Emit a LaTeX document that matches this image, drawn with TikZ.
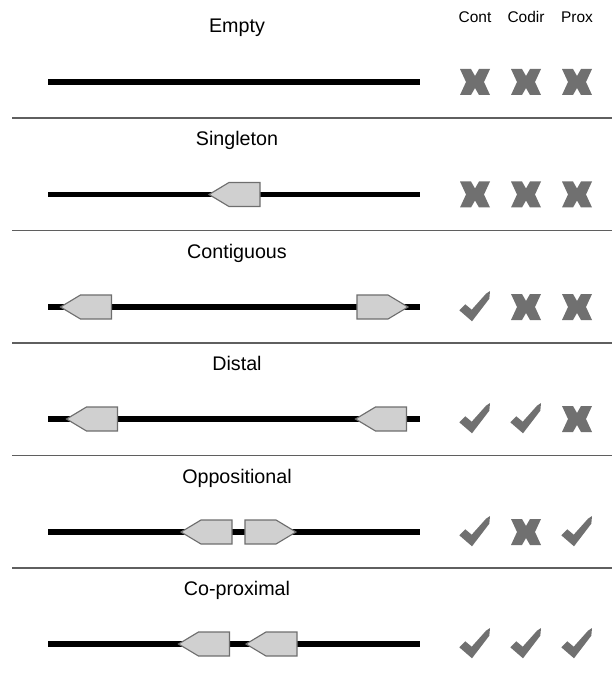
\documentclass[tikz,border=0pt]{standalone}
\usepackage{fontspec}
\setmainfont{Liberation Sans}
\usepackage{tikz}
\usetikzlibrary{shapes.symbols,positioning}
\definecolor{genefill}{RGB}{208,208,208}
\definecolor{genedraw}{RGB}{110,110,110}
\definecolor{markgray}{RGB}{112,112,112}
\definecolor{rulegray}{RGB}{95,95,95}
\tikzstyle{gene} = [shape=signal, signal from=nowhere, minimum width=1.275cm, minimum height=0.6cm, inner sep=0pt, signal pointer angle=62, draw=genedraw, fill=genefill, line width=0.8pt]
\tikzstyle{genome} = [line width=3.6pt, black]
\tikzstyle{rule} = [line width=1.1pt, rulegray]
\tikzstyle{title} = [anchor=base, font=\fontsize{14}{16}\selectfont]
\tikzstyle{colhead} = [anchor=base, font=\fontsize{11}{13}\selectfont]
\tikzset{
  nomark/.pic={
    \fill[markgray] (-15,-13) -- (-4,-13) -- (0,-6) -- (4,-13) -- (15,-13) -- (9,0) -- (15,13) -- (4,13) -- (0,6) -- (-4,13) -- (-15,13) -- (-9,0) -- cycle;
  },
  yesmark/.pic={
    \fill[markgray] (-15.7,3.3) -- (-9.7,-2.7) -- (-3.3,2.7) -- (11,-13.3) .. controls (13,-15) .. (15,-16) .. controls (15,-12) .. (14.3,-8.3) -- (-3,14.3) -- cycle;
  }
}

\begin{document}
\begin{tikzpicture}[x=0.025cm, y=-0.025cm]
\useasboundingbox (0,0) rectangle (612,682);

% Column heads
\node[colhead] (hcont) at (475,23) {Cont};
\node[colhead] (hcodir) at (526,23) {Codir};
\node[colhead] (hprox) at (577,23) {Prox};

% Separators
\foreach \y in {118,230.5,343,455.5,568}
  \draw[rule] (12,\y) -- (612,\y);

% Empty
\node[title] (tempty) at (237,33) {Empty};
\coordinate (e1) at (48,82);
\coordinate (e2) at (420,82);
\draw[genome] (e1) -- (e2);
\pic at (475,82) {nomark};
\pic at (526,82) {nomark};
\pic at (577,82) {nomark};

% Singleton
\node[title] (tsingle) at (237,145.5) {Singleton};
\coordinate (s1) at (48,194.5);
\coordinate (s2) at (420,194.5);
\draw[genome] (s1) -- (s2);
\node[gene, signal to=west] (sg) at (244.5,194.5) {};
\pic at (475,194.5) {nomark};
\pic at (526,194.5) {nomark};
\pic at (577,194.5) {nomark};

% Contiguous
\node[title] (tcontig) at (237,258) {Contiguous};
\coordinate (c1) at (48,307);
\coordinate (c2) at (420,307);
\draw[genome] (c1) -- (c2);
\node[gene, signal to=west] (cg1) at (96,307) {};
\node[gene, signal to=east] (cg2) at (372.5,307) {};
\pic at (475,307) {yesmark};
\pic at (526,307) {nomark};
\pic at (577,307) {nomark};

% Distal
\node[title] (tdistal) at (237,370) {Distal};
\coordinate (d1) at (48,419);
\coordinate (d2) at (420,419);
\draw[genome] (d1) -- (d2);
\node[gene, signal to=west] (dg1) at (102,419) {};
\node[gene, signal to=west] (dg2) at (391,419) {};
\pic at (475,419) {yesmark};
\pic at (526,419) {yesmark};
\pic at (577,419) {nomark};

% Oppositional
\node[title] (toppos) at (237,483) {Oppositional};
\coordinate (o1) at (48,532);
\coordinate (o2) at (420,532);
\draw[genome] (o1) -- (o2);
\node[gene, signal to=west] (og1) at (216.5,532) {};
\node[gene, signal to=east] (og2) at (260.5,532) {};
\pic at (475,532) {yesmark};
\pic at (526,532) {nomark};
\pic at (577,532) {yesmark};

% Co-proximal
\node[title] (tcoprox) at (237,595) {Co-proximal};
\coordinate (p1) at (48,644);
\coordinate (p2) at (420,644);
\draw[genome] (p1) -- (p2);
\node[gene, signal to=west] (pg1) at (214,644) {};
\node[gene, signal to=west] (pg2) at (281.5,644) {};
\pic at (475,644) {yesmark};
\pic at (526,644) {yesmark};
\pic at (577,644) {yesmark};
\end{tikzpicture}
\end{document}
